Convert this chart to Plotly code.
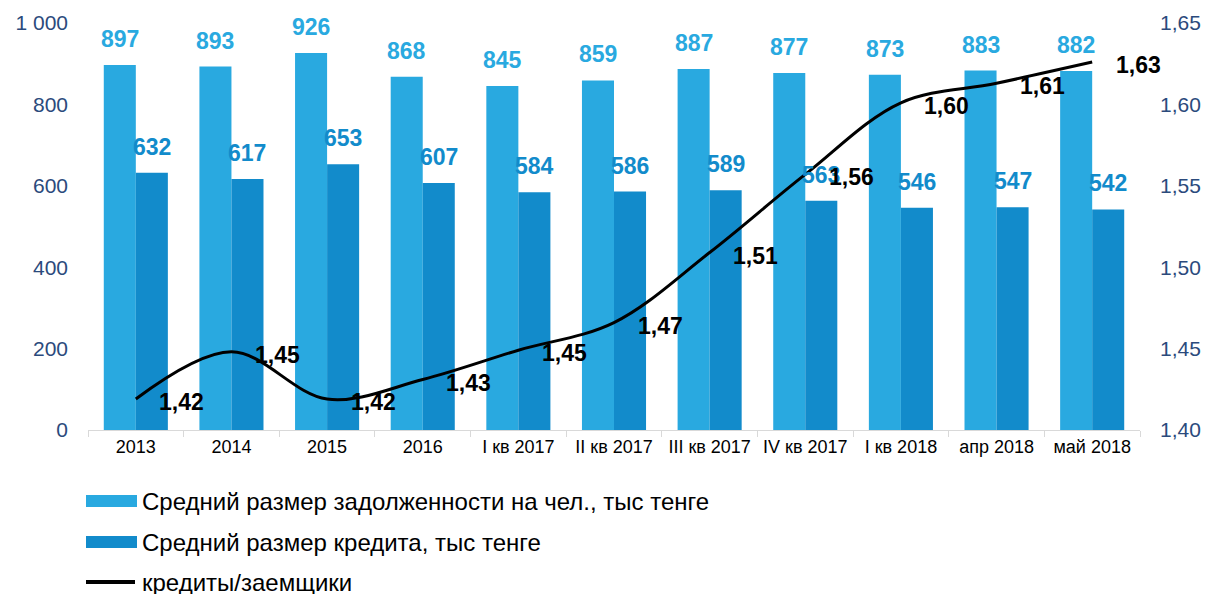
import plotly.graph_objects as go

categories = ["2013", "2014", "2015", "2016", "I кв 2017", "II кв 2017", "III кв 2017",
              "IV кв 2017", "I кв 2018", "апр 2018", "май 2018"]
debt_per_person = [897, 893, 926, 868, 845, 859, 887, 877, 873, 883, 882]
avg_loan = [632, 617, 653, 607, 584, 586, 589, 563, 546, 547, 542]
loans_per_borrower = [1.419, 1.448, 1.419, 1.431, 1.449, 1.466, 1.509, 1.557, 1.601, 1.613, 1.626]

name_debt = "Средний размер задолженности на чел., тыс тенге"
name_loan = "Средний размер кредита, тыс тенге"
name_ratio = "кредиты/заемщики"

c_light = "#29A9E0"
c_dark = "#128BCB"
c_axis = "#2B4A7C"
font_family = "Liberation Sans, Arial, sans-serif"

W, H = 1207, 594
ML, MR, MT, MB = 88, 67, 23, 164
PW, PH = W - ML - MR, H - MT - MB


def px_x(p):
    return (p - ML) / PW


def px_y(p):
    return (H - MB - p) / PH


fig = go.Figure()
fig.add_trace(go.Bar(x=categories, y=debt_per_person, name=name_debt,
                     marker=dict(color=c_light, line=dict(width=0)), showlegend=False))
fig.add_trace(go.Bar(x=categories, y=avg_loan, name=name_loan,
                     marker=dict(color=c_dark, line=dict(width=0)), showlegend=False))
fig.add_trace(go.Scatter(x=categories, y=loans_per_borrower, name=name_ratio, yaxis="y2",
                         mode="lines", line=dict(color="black", width=3, shape="spline", smoothing=1),
                         showlegend=False))

annotations = []
for i, v in enumerate(debt_per_person):
    annotations.append(dict(x=i, y=v, xref="x", yref="y", text=f"{v}", showarrow=False,
                            xshift=-16, yshift=26,
                            font=dict(family=font_family, size=23, color=c_light, weight="bold")))
for i, v in enumerate(avg_loan):
    annotations.append(dict(x=i, y=v, xref="x", yref="y", text=f"{v}", showarrow=False,
                            xshift=16, yshift=26,
                            font=dict(family=font_family, size=23, color=c_dark, weight="bold")))
for i, v in enumerate(loans_per_borrower):
    annotations.append(dict(x=i, y=v, xref="x", yref="y2", text=f"{v:.2f}".replace(".", ","),
                            showarrow=False, xshift=46, yshift=-3,
                            font=dict(family=font_family, size=23, color="black", weight="bold")))

# custom legend (wide swatches as in the reference)
legend_items = [(name_debt, c_light, "rect", 501), (name_loan, c_dark, "rect", 542),
                (name_ratio, "black", "line", 582)]
shapes = []
for label, color, kind, yc in legend_items:
    if kind == "rect":
        shapes.append(dict(type="rect", xref="paper", yref="paper",
                           x0=px_x(86), x1=px_x(137), y0=px_y(yc - 6), y1=px_y(yc + 6),
                           fillcolor=color, line=dict(width=0)))
    else:
        shapes.append(dict(type="line", xref="paper", yref="paper",
                           x0=px_x(86), x1=px_x(135), y0=px_y(yc), y1=px_y(yc),
                           line=dict(color=color, width=4)))
    annotations.append(dict(x=px_x(140), y=px_y(yc), xref="paper", yref="paper", text=label,
                            showarrow=False, xanchor="left", yanchor="middle",
                            font=dict(family=font_family, size=24, color="black")))

fig.update_layout(
    width=W, height=H,
    margin=dict(l=ML, r=MR, t=MT, b=MB),
    paper_bgcolor="white", plot_bgcolor="white",
    separators=", ",
    barmode="group", bargap=0.33, bargroupgap=0,
    showlegend=False,
    font=dict(family=font_family, size=18, color="black"),
    xaxis=dict(type="category", range=[-0.5, len(categories) - 0.5], showgrid=False,
               showline=True, linecolor="#D9D9D9", linewidth=1, automargin=False,
               ticks="outside", tickson="boundaries", ticklen=6, tickcolor="#D9D9D9",
               tickfont=dict(size=18, color="black"), tickangle=0),
    yaxis=dict(range=[0, 1000], dtick=200, tickformat=",d", showgrid=False, zeroline=False,
               showline=False, automargin=False,
               tickfont=dict(size=21, color=c_axis), ticklabelstandoff=19),
    yaxis2=dict(range=[1.40, 1.65], dtick=0.05, tickformat=".2f", overlaying="y", side="right",
                showgrid=False, zeroline=False, showline=False, automargin=False,
                tickfont=dict(size=21, color=c_axis), ticklabelstandoff=19),
    shapes=shapes,
    annotations=annotations,
)

fig.write_html("out.html", config={"displayModeBar": False},
               post_script="document.body.style.margin='0';document.body.style.overflow='hidden';")
